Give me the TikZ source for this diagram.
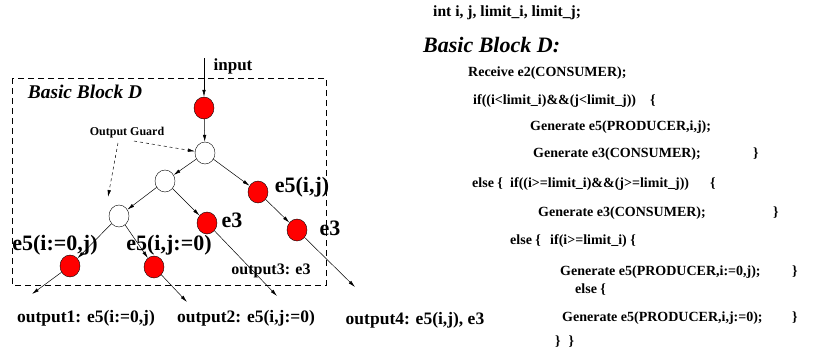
\documentclass[tikz,border=0pt]{standalone}
\usepackage{fontspec}
\setmainfont{Liberation Serif}
\usetikzlibrary{shapes.geometric,arrows.meta}
\begin{document}
\begin{tikzpicture}[x=1pt,y=-1pt,
  redn/.style={ellipse,draw,fill=red,inner sep=0pt,minimum width=20pt,minimum height=22pt},
  whiten/.style={ellipse,draw,fill=white,inner sep=0pt,minimum width=20pt,minimum height=22pt},
  arr/.style={-{Latex[length=7pt,width=3.5pt]},line width=0.5pt},
  guard/.style={dashed,-{Latex[length=7pt,width=3.5pt]},line width=0.5pt},
  big/.style={font=\fontsize{22}{24}\selectfont\bfseries,inner sep=0pt},
  outl/.style={font=\fontsize{17.5}{19}\selectfont\bfseries,inner sep=0pt},
  code/.style={font=\fontsize{14}{16}\selectfont\bfseries,inner sep=0pt,anchor=west}]
\useasboundingbox (0,0) rectangle (826,360);
% dashed block
\draw[dashed,line width=0.6pt,dash pattern=on 6pt off 4pt] (12,78) rectangle (326,285);
\node[font=\fontsize{19.4}{21}\selectfont\bfseries\itshape,inner sep=0pt] (bbd) at (85,92) {Basic Block D};
\node[font=\fontsize{17}{19}\selectfont\bfseries,inner sep=0pt] (inp) at (233,66) {input};
\node[font=\fontsize{12}{14}\selectfont\bfseries,inner sep=0pt] (og) at (127,133) {Output Guard};
% nodes
\coordinate (in) at (204,58);
\node[redn] (n1) at (204,108) {};
\node[whiten] (n2) at (205,153) {};
\node[whiten] (n3) at (165,181) {};
\node[redn] (ea) at (258,192) {};
\node[redn] (eb) at (297,230) {};
\node[whiten] (n4) at (119,216) {};
\node[redn] (em) at (207,223) {};
\node[redn] (r1) at (70,266) {};
\node[redn] (r2) at (154,267) {};
\coordinate (o4) at (355,287);
\coordinate (o3) at (277,296);
\coordinate (o1) at (32,294);
\coordinate (o2) at (187,302);
\coordinate (g1) at (134,141);
\coordinate (g2) at (118,143);
\coordinate (g3) at (108,197);
% edges
\draw[arr] (in) -- (n1);
\draw[arr] (n1) -- (n2);
\draw[arr] (n2) -- (n3);
\draw[arr] (n2) -- (ea);
\draw[arr] (ea) -- (eb);
\draw[arr] (eb) -- (o4);
\draw[arr] (n3) -- (n4);
\draw[arr] (n3) -- (em);
\draw[arr] (em) -- (o3);
\draw[arr] (n4) -- (r1);
\draw[arr] (n4) -- (r2);
\draw[arr] (r1) -- (o1);
\draw[arr] (r2) -- (o2);
\draw[guard] (g1) -- (n2);
\draw[guard] (g2) -- (g3);
% labels
\node[big] (la) at (302,187) {e5(i,j)};
\node[big] (lb) at (330,228) {e3};
\node[big] (lm) at (232,220) {e3};
\node[big] (l1) at (55,245) {e5(i:=0,j)};
\node[big] (l2) at (169,245) {e5(i,j:=0)};
\node[font=\fontsize{16}{18}\selectfont\bfseries,inner sep=0pt] (out3) at (271,271) {output3: e3};
\node[outl] (out1) at (86,318) {output1: e5(i:=0,j)};
\node[outl] (out2) at (246,318) {output2: e5(i,j:=0)};
\node[outl] (out4) at (415,320) {output4: e5(i,j), e3};
% code
\node[code,font=\fontsize{15.6}{17}\selectfont\bfseries] (c0) at (433,13) {int i, j, limit\_i, limit\_j;};
\node[code,font=\fontsize{22}{24}\selectfont\bfseries\itshape] (c1) at (423,45) {Basic Block D:};
\node[code] (c2) at (468,73) {Receive e2(CONSUMER);};
\node[code] (c3) at (473,101) {if((i<limit\_i)\&\&(j<limit\_j))};
\node[code] (c3b) at (650,101) {\{};
\node[code] (c4) at (530,127) {Generate e5(PRODUCER,i,j);};
\node[code] (c5) at (533,154) {Generate e3(CONSUMER);};
\node[code] (c5b) at (753,154) {\}};
\node[code] (c6) at (472,184) {else \{};
\node[code] (c6b) at (510,184) {if((i>=limit\_i)\&\&(j>=limit\_j))};
\node[code] (c6c) at (710,184) {\{};
\node[code] (c7) at (538,213) {Generate e3(CONSUMER);};
\node[code] (c7b) at (773,213) {\}};
\node[code] (c8) at (510,241) {else \{};
\node[code] (c8b) at (550,241) {if(i>=limit\_i) \{};
\node[code] (c9) at (560,272) {Generate e5(PRODUCER,i:=0,j);};
\node[code] (c9b) at (792,272) {\}};
\node[code] (c10) at (575,290) {else \{};
\node[code] (c11) at (562,318) {Generate e5(PRODUCER,i,j:=0);};
\node[code] (c11b) at (792,318) {\}};
\node[code] (c12) at (555,342) {\}\hspace{8pt}\}};
\end{tikzpicture}
\end{document}
